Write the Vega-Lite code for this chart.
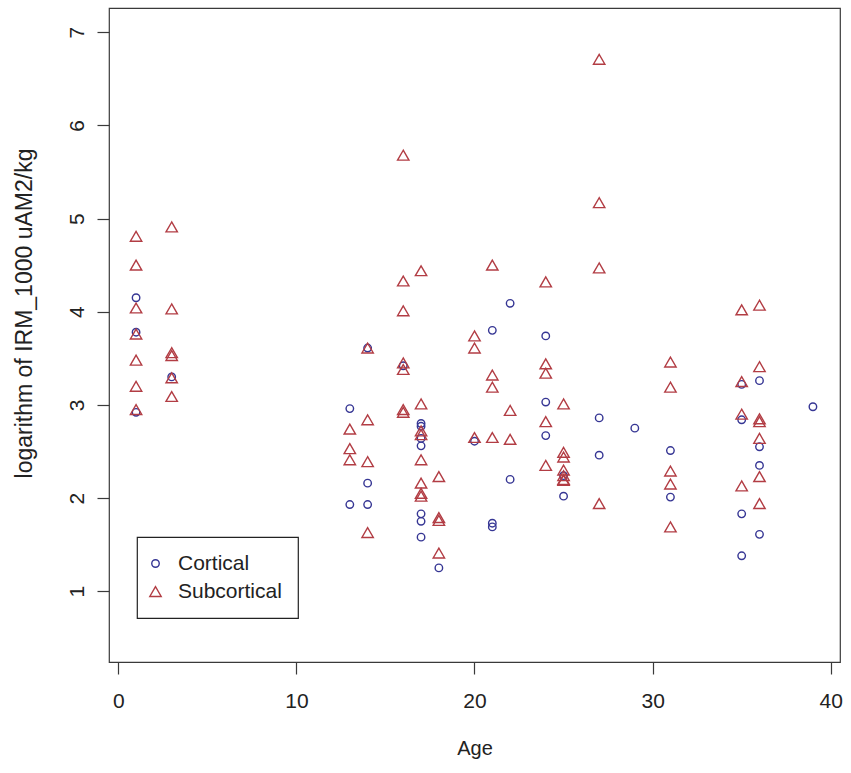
{
  "$schema": "https://vega.github.io/schema/vega-lite/v6.json",
  "width": 731,
  "height": 654,
  "autosize": "none",
  "padding": {"left": 109, "top": 8, "right": 11, "bottom": 111},
  "background": "white",
  "data": {
    "values": [
      {"age": 1, "value": 4.15, "type": "Cortical"},
      {"age": 1, "value": 3.78, "type": "Cortical"},
      {"age": 1, "value": 2.92, "type": "Cortical"},
      {"age": 1, "value": 4.81, "type": "Subcortical"},
      {"age": 1, "value": 4.5, "type": "Subcortical"},
      {"age": 1, "value": 4.04, "type": "Subcortical"},
      {"age": 1, "value": 3.76, "type": "Subcortical"},
      {"age": 1, "value": 3.48, "type": "Subcortical"},
      {"age": 1, "value": 3.2, "type": "Subcortical"},
      {"age": 1, "value": 2.95, "type": "Subcortical"},
      {"age": 3, "value": 3.3, "type": "Cortical"},
      {"age": 3, "value": 4.91, "type": "Subcortical"},
      {"age": 3, "value": 4.03, "type": "Subcortical"},
      {"age": 3, "value": 3.56, "type": "Subcortical"},
      {"age": 3, "value": 3.53, "type": "Subcortical"},
      {"age": 3, "value": 3.29, "type": "Subcortical"},
      {"age": 3, "value": 3.09, "type": "Subcortical"},
      {"age": 13, "value": 2.96, "type": "Cortical"},
      {"age": 13, "value": 1.93, "type": "Cortical"},
      {"age": 13, "value": 2.74, "type": "Subcortical"},
      {"age": 13, "value": 2.53, "type": "Subcortical"},
      {"age": 13, "value": 2.41, "type": "Subcortical"},
      {"age": 14, "value": 3.61, "type": "Cortical"},
      {"age": 14, "value": 2.16, "type": "Cortical"},
      {"age": 14, "value": 1.93, "type": "Cortical"},
      {"age": 14, "value": 3.61, "type": "Subcortical"},
      {"age": 14, "value": 2.84, "type": "Subcortical"},
      {"age": 14, "value": 2.39, "type": "Subcortical"},
      {"age": 14, "value": 1.63, "type": "Subcortical"},
      {"age": 16, "value": 3.42, "type": "Cortical"},
      {"age": 16, "value": 5.68, "type": "Subcortical"},
      {"age": 16, "value": 4.33, "type": "Subcortical"},
      {"age": 16, "value": 4.01, "type": "Subcortical"},
      {"age": 16, "value": 3.45, "type": "Subcortical"},
      {"age": 16, "value": 3.38, "type": "Subcortical"},
      {"age": 16, "value": 2.95, "type": "Subcortical"},
      {"age": 16, "value": 2.92, "type": "Subcortical"},
      {"age": 17, "value": 2.8, "type": "Cortical"},
      {"age": 17, "value": 2.77, "type": "Cortical"},
      {"age": 17, "value": 2.64, "type": "Cortical"},
      {"age": 17, "value": 2.56, "type": "Cortical"},
      {"age": 17, "value": 1.83, "type": "Cortical"},
      {"age": 17, "value": 1.75, "type": "Cortical"},
      {"age": 17, "value": 1.58, "type": "Cortical"},
      {"age": 17, "value": 4.44, "type": "Subcortical"},
      {"age": 17, "value": 3.01, "type": "Subcortical"},
      {"age": 17, "value": 2.72, "type": "Subcortical"},
      {"age": 17, "value": 2.68, "type": "Subcortical"},
      {"age": 17, "value": 2.41, "type": "Subcortical"},
      {"age": 17, "value": 2.16, "type": "Subcortical"},
      {"age": 17, "value": 2.05, "type": "Subcortical"},
      {"age": 17, "value": 2.02, "type": "Subcortical"},
      {"age": 18, "value": 1.25, "type": "Cortical"},
      {"age": 18, "value": 2.23, "type": "Subcortical"},
      {"age": 18, "value": 1.79, "type": "Subcortical"},
      {"age": 18, "value": 1.76, "type": "Subcortical"},
      {"age": 18, "value": 1.41, "type": "Subcortical"},
      {"age": 20, "value": 2.61, "type": "Cortical"},
      {"age": 20, "value": 3.74, "type": "Subcortical"},
      {"age": 20, "value": 3.61, "type": "Subcortical"},
      {"age": 20, "value": 2.65, "type": "Subcortical"},
      {"age": 21, "value": 3.8, "type": "Cortical"},
      {"age": 21, "value": 1.73, "type": "Cortical"},
      {"age": 21, "value": 1.69, "type": "Cortical"},
      {"age": 21, "value": 4.5, "type": "Subcortical"},
      {"age": 21, "value": 3.32, "type": "Subcortical"},
      {"age": 21, "value": 3.19, "type": "Subcortical"},
      {"age": 21, "value": 2.65, "type": "Subcortical"},
      {"age": 22, "value": 4.09, "type": "Cortical"},
      {"age": 22, "value": 2.2, "type": "Cortical"},
      {"age": 22, "value": 2.94, "type": "Subcortical"},
      {"age": 22, "value": 2.63, "type": "Subcortical"},
      {"age": 24, "value": 3.74, "type": "Cortical"},
      {"age": 24, "value": 3.03, "type": "Cortical"},
      {"age": 24, "value": 2.67, "type": "Cortical"},
      {"age": 24, "value": 4.32, "type": "Subcortical"},
      {"age": 24, "value": 3.44, "type": "Subcortical"},
      {"age": 24, "value": 3.34, "type": "Subcortical"},
      {"age": 24, "value": 2.82, "type": "Subcortical"},
      {"age": 24, "value": 2.35, "type": "Subcortical"},
      {"age": 25, "value": 2.24, "type": "Cortical"},
      {"age": 25, "value": 2.02, "type": "Cortical"},
      {"age": 25, "value": 3.01, "type": "Subcortical"},
      {"age": 25, "value": 2.49, "type": "Subcortical"},
      {"age": 25, "value": 2.44, "type": "Subcortical"},
      {"age": 25, "value": 2.3, "type": "Subcortical"},
      {"age": 25, "value": 2.24, "type": "Subcortical"},
      {"age": 25, "value": 2.2, "type": "Subcortical"},
      {"age": 25, "value": 2.19, "type": "Subcortical"},
      {"age": 27, "value": 2.86, "type": "Cortical"},
      {"age": 27, "value": 2.46, "type": "Cortical"},
      {"age": 27, "value": 6.71, "type": "Subcortical"},
      {"age": 27, "value": 5.17, "type": "Subcortical"},
      {"age": 27, "value": 4.47, "type": "Subcortical"},
      {"age": 27, "value": 1.94, "type": "Subcortical"},
      {"age": 29, "value": 2.75, "type": "Cortical"},
      {"age": 31, "value": 2.51, "type": "Cortical"},
      {"age": 31, "value": 2.01, "type": "Cortical"},
      {"age": 31, "value": 3.46, "type": "Subcortical"},
      {"age": 31, "value": 3.19, "type": "Subcortical"},
      {"age": 31, "value": 2.29, "type": "Subcortical"},
      {"age": 31, "value": 2.15, "type": "Subcortical"},
      {"age": 31, "value": 1.69, "type": "Subcortical"},
      {"age": 35, "value": 3.22, "type": "Cortical"},
      {"age": 35, "value": 2.84, "type": "Cortical"},
      {"age": 35, "value": 1.83, "type": "Cortical"},
      {"age": 35, "value": 1.38, "type": "Cortical"},
      {"age": 35, "value": 4.02, "type": "Subcortical"},
      {"age": 35, "value": 3.25, "type": "Subcortical"},
      {"age": 35, "value": 2.9, "type": "Subcortical"},
      {"age": 35, "value": 2.13, "type": "Subcortical"},
      {"age": 36, "value": 3.26, "type": "Cortical"},
      {"age": 36, "value": 2.55, "type": "Cortical"},
      {"age": 36, "value": 2.35, "type": "Cortical"},
      {"age": 36, "value": 1.61, "type": "Cortical"},
      {"age": 36, "value": 4.07, "type": "Subcortical"},
      {"age": 36, "value": 3.41, "type": "Subcortical"},
      {"age": 36, "value": 2.85, "type": "Subcortical"},
      {"age": 36, "value": 2.82, "type": "Subcortical"},
      {"age": 36, "value": 2.64, "type": "Subcortical"},
      {"age": 36, "value": 2.23, "type": "Subcortical"},
      {"age": 36, "value": 1.94, "type": "Subcortical"},
      {"age": 39, "value": 2.98, "type": "Cortical"}
    ]
  },
  "mark": {"type": "point", "filled": false, "strokeWidth": 1.4, "opacity": 1},
  "encoding": {
    "x": {
      "field": "age",
      "type": "quantitative",
      "title": "Age",
      "scale": {"domain": [-0.52, 40.52], "nice": false, "zero": false},
      "axis": {
        "values": [0, 10, 20, 30, 40],
        "grid": false,
        "domain": false,
        "tickSize": 12,
        "labelFontSize": 21,
        "labelBaseline": "middle",
        "labelPadding": 27,
        "titleX": 365.5,
        "titleY": 86,
        "titleBaseline": "middle"
      }
    },
    "y": {
      "field": "value",
      "type": "quantitative",
      "title": "logarithm of IRM_1000 uAM2/kg",
      "scale": {"domain": [0.24, 7.26], "nice": false, "zero": false},
      "axis": {
        "values": [1, 2, 3, 4, 5, 6, 7],
        "grid": false,
        "domain": false,
        "tickSize": 12,
        "labelFontSize": 21,
        "labelAngle": -90,
        "labelAlign": "center",
        "labelBaseline": "middle",
        "labelPadding": 20,
        "titleFontSize": 23,
        "titleX": -85,
        "titleY": 305,
        "titleBaseline": "middle",
        "titleAlign": "center"
      }
    },
    "color": {
      "field": "type",
      "type": "nominal",
      "scale": {"domain": ["Cortical", "Subcortical"], "range": ["#363694", "#b23d44"]},
      "legend": {
        "title": null,
        "orient": "none",
        "legendX": 28,
        "legendY": 529
      }
    },
    "shape": {
      "field": "type",
      "type": "nominal",
      "scale": {"domain": ["Cortical", "Subcortical"], "range": ["circle", "triangle-up"]}
    },
    "size": {
      "field": "type",
      "type": "nominal",
      "scale": {"domain": ["Cortical", "Subcortical"], "range": [56, 130], "type": "point", "padding": 0}
    }
  },
  "config": {
    "font": "Liberation Sans",
    "view": {"stroke": "#3a3a3a", "strokeWidth": 1.2},
    "axis": {
      "labelFont": "Liberation Sans",
      "titleFont": "Liberation Sans",
      "labelFontSize": 20,
      "titleFontSize": 20,
      "labelColor": "#222",
      "titleColor": "#222",
      "titleFontWeight": "normal",
      "tickColor": "#3a3a3a",
      "tickWidth": 1.2
    },
    "legend": {
      "labelFont": "Liberation Sans",
      "labelFontSize": 21,
      "labelColor": "#222",
      "strokeColor": "#222",
      "strokeWidth": 1.2,
      "padding": 16,
      "rowPadding": 6,
      "labelOffset": 12,
      "symbolOffset": -8,
      "symbolStrokeWidth": 1.4,
      "symbolFillColor": "transparent",
      "fillColor": "white"
    }
  }
}
